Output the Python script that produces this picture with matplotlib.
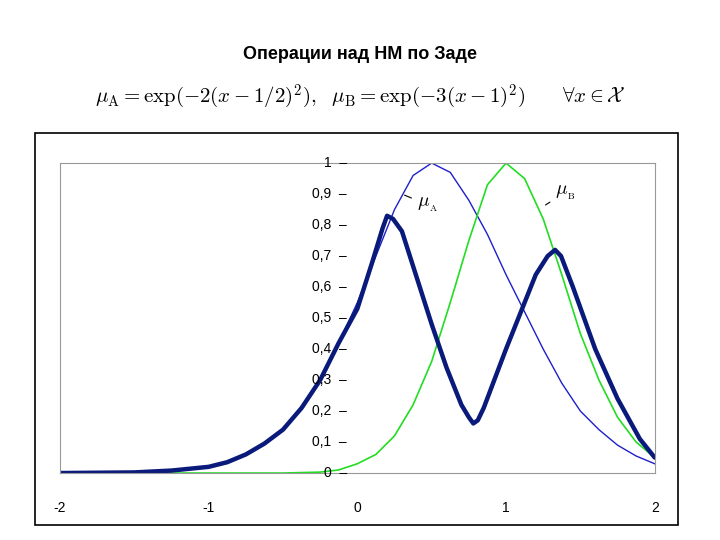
import matplotlib
matplotlib.use("Agg")
import matplotlib.pyplot as plt
from matplotlib.patches import Rectangle
plt.rcParams['mathtext.fontset'] = 'cm'

xa = [-2,-1.75,-1.5,-1.25,-1,-0.875,-0.75,-0.625,-0.5,-0.375,-0.25,-0.125,0,0.125,0.25,0.375,0.5,0.625,0.75,0.875,1,1.125,1.25,1.375,1.5,1.625,1.75,1.875,2]
mu_a = [0,0,0.001,0.005,0.02,0.035,0.06,0.095,0.14,0.21,0.3,0.42,0.55,0.7,0.85,0.96,1.0,0.97,0.88,0.77,0.64,0.52,0.4,0.29,0.2,0.14,0.09,0.055,0.03]
xb = [-2,-1,-0.5,-0.25,-0.125,0,0.125,0.25,0.375,0.5,0.625,0.75,0.875,1,1.125,1.25,1.375,1.5,1.625,1.75,1.875,2]
mu_b = [0,0,0,0.003,0.01,0.03,0.06,0.12,0.22,0.36,0.55,0.75,0.93,1.0,0.95,0.82,0.64,0.45,0.3,0.18,0.1,0.05]
xc = [-2,-1.5,-1.25,-1,-0.875,-0.75,-0.625,-0.5,-0.375,-0.25,-0.125,0,0.1,0.17,0.2,0.24,0.3,0.4,0.5,0.6,0.7,0.75,0.78,0.81,0.85,1.0,1.1,1.2,1.28,1.33,1.37,1.45,1.6,1.75,1.9,2]
mu_c = [0,0.002,0.008,0.02,0.035,0.06,0.095,0.14,0.21,0.3,0.42,0.53,0.68,0.79,0.83,0.82,0.78,0.63,0.48,0.34,0.22,0.18,0.16,0.17,0.21,0.4,0.52,0.64,0.7,0.72,0.7,0.6,0.4,0.24,0.11,0.05]
xticks = [-2,-1,0,1,2]
yticks = [0,0.1,0.2,0.3,0.4,0.5,0.6,0.7,0.8,0.9,1]

fig = plt.figure(figsize=(7.2,5.4), dpi=100)
fig.patches.append(Rectangle((0.0486,0.028),0.893,0.726, transform=fig.transFigure,
                             fill=False, edgecolor='black', lw=1.2))
fig.text(0.5,0.89,"Операции над НМ по Заде", ha='center', fontsize=13, fontweight='bold', family='Liberation Sans')
fig.text(0.5,0.81,r"$\mu_{\mathrm{A}} = \exp(-2(x-1/2)^2),\ \ \mu_{\mathrm{B}} = \exp(-3(x-1)^2)\qquad \forall x \in \mathcal{X}$",
         ha='center', fontsize=15)
ax = fig.add_axes([0.0833,0.124,0.826,0.574])
ax.plot(xa, mu_a, color='#1f1fcc', lw=1)
ax.plot(xb, mu_b, color='#22dd22', lw=1.2)
ax.plot(xc, mu_c, color='#0a1a7a', lw=3.2, solid_joinstyle='round', solid_capstyle='round')
ax.set_xlim(-2,2); ax.set_ylim(0,1)
ax.set_xticks([]); ax.set_yticks([])
for s in ax.spines.values():
    s.set_color('#999999')
for t in yticks:
    lab = ("%g" % t).replace('.', ',')
    ax.text(-0.07, t, lab + "  –", ha='right', va='center', fontsize=10, family='Liberation Sans')
for t in xticks:
    ax.text(t, -0.09, "%g" % t, ha='center', va='top', fontsize=10, family='Liberation Sans', clip_on=False)
ax.annotate(r"$\mu_{_\mathrm{A}}$", xy=(0.3,0.9), xytext=(0.4,0.86), fontsize=14,
            arrowprops=dict(arrowstyle='-', color='black', lw=0.8))
ax.annotate(r"$\mu_{_\mathrm{B}}$", xy=(1.25,0.86), xytext=(1.33,0.9), fontsize=14,
            arrowprops=dict(arrowstyle='-', color='black', lw=0.8))
fig.savefig("out.png", dpi=100)
